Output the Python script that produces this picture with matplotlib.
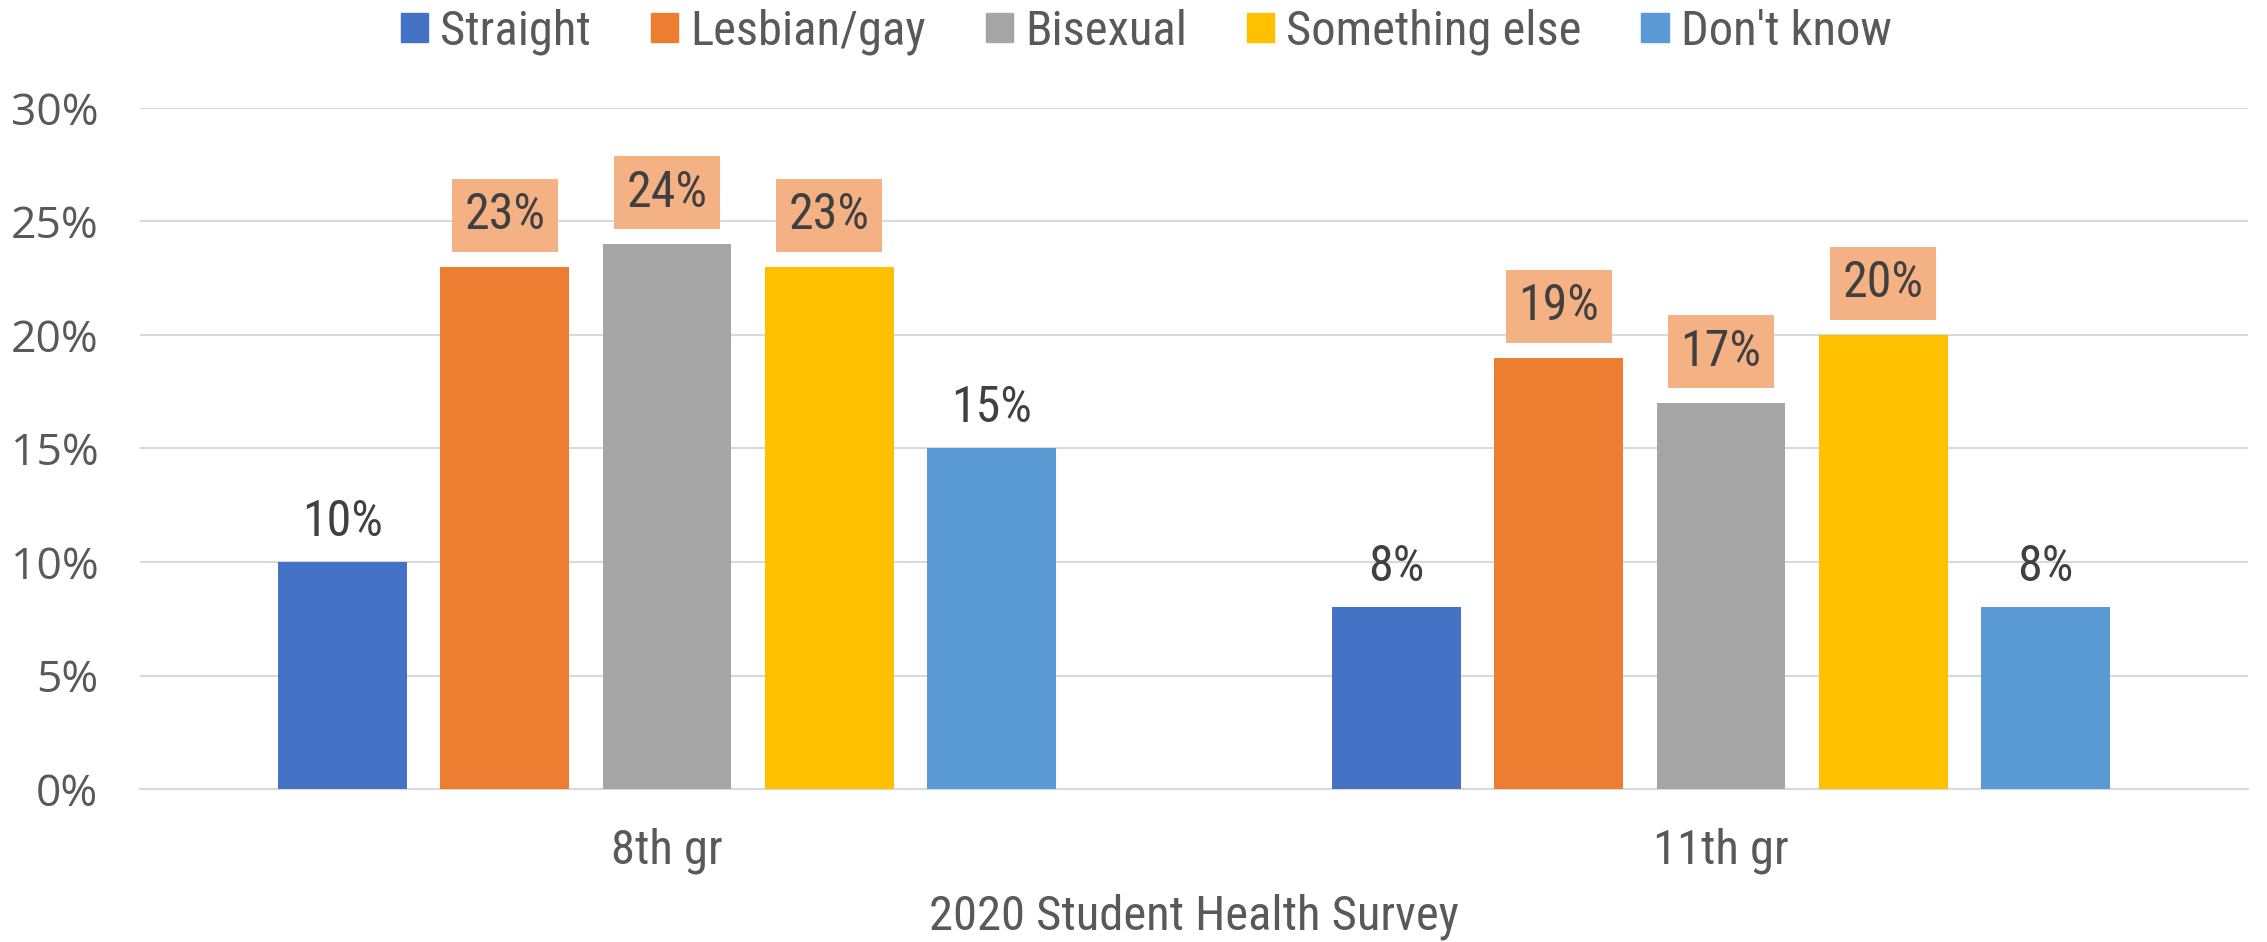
import numpy as np
import matplotlib.pyplot as plt
from matplotlib.patches import Patch

grades = ["8th gr", "11th gr"]
groups = ["Straight", "Lesbian/gay", "Bisexual", "Something else", "Don't know"]
straight = [10, 8]
lesbian_gay = [23, 19]
bisexual = [24, 17]
something_else = [23, 20]
dont_know = [15, 8]
series = [straight, lesbian_gay, bisexual, something_else, dont_know]
colors = ["#4472C4", "#ED7D31", "#A5A5A5", "#FFC000", "#5B9BD5"]
boxed = [False, True, True, True, False]

lab_font = ["Roboto Condensed", "Liberation Sans Narrow", "DejaVu Sans"]
tick_font = ["Open Sans", "DejaVu Sans"]

fig = plt.figure(figsize=(22.67, 9.42), dpi=100)
ax = fig.add_axes([0.0618, 0.1624, 0.9298, 0.723])

x = np.arange(len(grades))
width = 0.122
step = 0.154
for i, (vals, c) in enumerate(zip(series, colors)):
    pos = x + (i - 2) * step
    bars = ax.bar(pos, vals, width, color=c, zorder=3)
    for b, v in zip(bars, vals):
        kw = {}
        off = 19
        if boxed[i]:
            kw["bbox"] = dict(boxstyle="square,pad=0.25", fc="#F4B183", ec="none")
            off = 27
        ax.annotate(f"{v}%", (b.get_x() + b.get_width() / 2, v),
                    xytext=(0, off), textcoords="offset points",
                    ha="center", va="baseline", fontsize=36, stretch="condensed",
                    color="#404040", family=lab_font, zorder=4, **kw)

ax.set_xlim(-0.5, 1.5)
ax.set_ylim(0, 30)
ax.set_yticks(range(0, 31, 5))
ax.set_yticklabels([f"{t}%" for t in range(0, 31, 5)], family=tick_font,
                   fontsize=32, color="#595959")
ax.set_xticks(x)
ax.set_xticklabels(grades, family=lab_font, fontsize=35, stretch="condensed",
                   color="#595959")
ax.tick_params(axis="y", length=0, pad=30)
ax.tick_params(axis="x", length=0, pad=28)
ax.grid(axis="y", color="#D9D9D9", linewidth=1.5, zorder=0)
for s in ["top", "right", "left"]:
    ax.spines[s].set_visible(False)
ax.spines["bottom"].set_color("#D9D9D9")
ax.spines["bottom"].set_linewidth(1.5)
ax.set_xlabel("2020 Student Health Survey", family=lab_font, fontsize=35,
              stretch="condensed", color="#595959", labelpad=14)

handles = [Patch(color=c, label=g) for g, c in zip(groups, colors)]
leg = fig.legend(handles=handles, loc="center", bbox_to_anchor=(0.5057, 0.966),
                 ncol=5, frameon=False,
                 prop={"family": lab_font, "size": 35, "stretch": "condensed"},
                 handlelength=0.56, handleheight=0.56, handletextpad=0.25,
                 columnspacing=1.23)
for t in leg.get_texts():
    t.set_color("#595959")

fig.savefig("out.png", dpi=100)
